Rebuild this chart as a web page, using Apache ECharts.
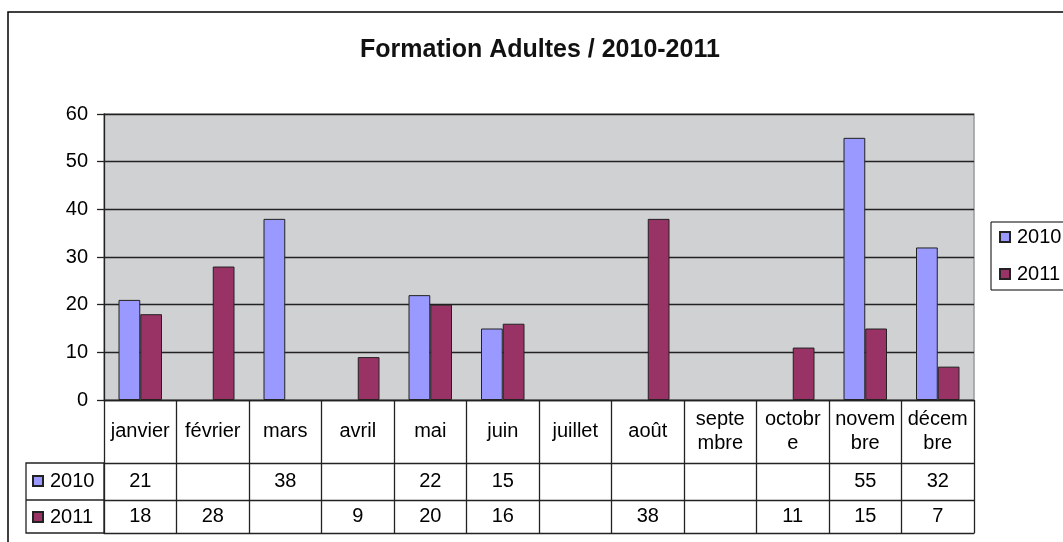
<!DOCTYPE html>
<html>
<head>
<meta charset="utf-8">
<style>
  html, body { margin: 0; padding: 0; background: #fff; }
  #chart { width: 1063px; height: 542px; }
</style>
<script src="https://cdn.jsdelivr.net/npm/echarts@6/dist/echarts.min.js"></script>
</head>
<body>
<div id="chart"></div>
<script>
// données
const months = ['janvier', 'février', 'mars', 'avril', 'mai', 'juin', 'juillet', 'août', 'septembre', 'octobre', 'novembre', 'décembre']
const vals2010 = [21, null, 38, null, 22, 15, null, null, null, null, 55, 32]
const vals2011 = [18, 28, null, 9, 20, 16, null, 38, null, 11, 15, 7]
const seriesNames = ['2010', '2011']

const FONT = '"Liberation Sans", Arial, sans-serif'
const LINE = '#222'

// coupe les mois trop longs comme Excel (lettre par lettre)
const measureCtx = document.createElement('canvas').getContext('2d')
measureCtx.font = '20px ' + FONT
function wrapLabel(text, maxWidth) {
  const lines = []
  let cur = ''
  for (const ch of text) {
    if (cur && measureCtx.measureText(cur + ch).width > maxWidth) {
      lines.push(cur)
      cur = ch
    } else {
      cur += ch
    }
  }
  lines.push(cur)
  return lines.join('\n')
}

const chart = echarts.init(document.getElementById('chart'))

// lignes du tableau de données (sous l'axe)
function tableAxis(offset, values, margin) {
  return {
    type: 'category',
    data: months,
    position: 'bottom',
    offset: offset,
    axisLine: { show: true, lineStyle: { color: LINE, width: 1.3 } },
    axisTick: { show: false },
    axisLabel: {
      show: !!values,
      interval: 0,
      margin: margin,
      verticalAlign: 'middle',
      fontSize: 20,
      color: '#000',
      formatter: (v, i) => (values && values[i] != null ? String(values[i]) : '')
    }
  }
}

chart.setOption({
  animation: false,
  textStyle: { fontFamily: FONT },
  title: {
    text: 'Formation Adultes / 2010-2011',
    left: 360,
    top: 38,
    padding: 0,
    textStyle: { fontSize: 25, fontWeight: 'bold', color: '#111' }
  },
  legend: [
    {
      data: seriesNames,
      orient: 'vertical',
      left: 991,
      top: 222,
      padding: [5, 30, 6, 8],
      itemGap: 17,
      itemWidth: 10,
      itemHeight: 10,
      icon: 'rect',
      borderColor: '#000',
      borderWidth: 1,
      selectedMode: false,
      textStyle: { fontSize: 20, color: '#000', lineHeight: 20, padding: [0, 0, 0, 2] }
    },
    {
      // en-tête des lignes du tableau
      data: seriesNames,
      orient: 'vertical',
      left: 32,
      top: 471,
      padding: 0,
      itemGap: 16,
      itemWidth: 10,
      itemHeight: 10,
      icon: 'rect',
      selectedMode: false,
      textStyle: { fontSize: 20, color: '#000', lineHeight: 20, padding: [0, 0, 0, 2] }
    }
  ],
  grid: {
    left: 104,
    right: 89,
    top: 114,
    bottom: 142,
    show: true,
    backgroundColor: '#D0D1D3',
    borderColor: '#9a9a9a',
    borderWidth: 1.5
  },
  xAxis: [
    {
      type: 'category',
      data: months,
      position: 'bottom',
      axisLine: { show: true, lineStyle: { color: LINE, width: 1.3 } },
      axisTick: { show: true, interval: 0, length: 133, lineStyle: { color: LINE, width: 1.3 } },
      axisLabel: {
        interval: 0,
        margin: 31,
        verticalAlign: 'middle',
        fontSize: 20,
        color: '#000',
        lineHeight: 24,
        formatter: (v) => wrapLabel(v, 64)
      }
    },
    tableAxis(63, vals2010, 18.5),
    tableAxis(100, vals2011, 16.5),
    tableAxis(133, null, 10)
  ],
  yAxis: {
    type: 'value',
    min: 0,
    max: 60,
    interval: 10,
    axisLine: { show: true, lineStyle: { color: LINE, width: 1.3 } },
    axisTick: { show: true, length: 7, lineStyle: { color: LINE, width: 1.3 } },
    axisLabel: { fontSize: 20, color: '#000', margin: 16 },
    splitLine: { lineStyle: { color: LINE, width: 1.3 } }
  },
  series: [
    {
      name: '2010',
      type: 'bar',
      data: vals2010,
      barGap: '0%',
      barCategoryGap: '40%',
      itemStyle: { color: '#9999FF', borderColor: '#222', borderWidth: 1 }
    },
    {
      name: '2011',
      type: 'bar',
      data: vals2011,
      barGap: '0%',
      barCategoryGap: '40%',
      itemStyle: { color: '#993366', borderColor: '#222', borderWidth: 1 }
    }
  ],
  graphic: [
    {
      // cadre extérieur (coupé à droite et en bas)
      type: 'rect',
      shape: { x: 8, y: 12, width: 1200, height: 700 },
      style: { fill: 'none', stroke: '#000', lineWidth: 1.5 },
      z: -1
    },
    {
      type: 'rect',
      shape: { x: 26, y: 463, width: 78, height: 70 },
      style: { fill: 'none', stroke: LINE, lineWidth: 1.3 }
    },
    {
      type: 'line',
      shape: { x1: 26, y1: 500, x2: 104, y2: 500 },
      style: { stroke: LINE, lineWidth: 1.3 }
    }
  ]
})
</script>
</body>
</html>
